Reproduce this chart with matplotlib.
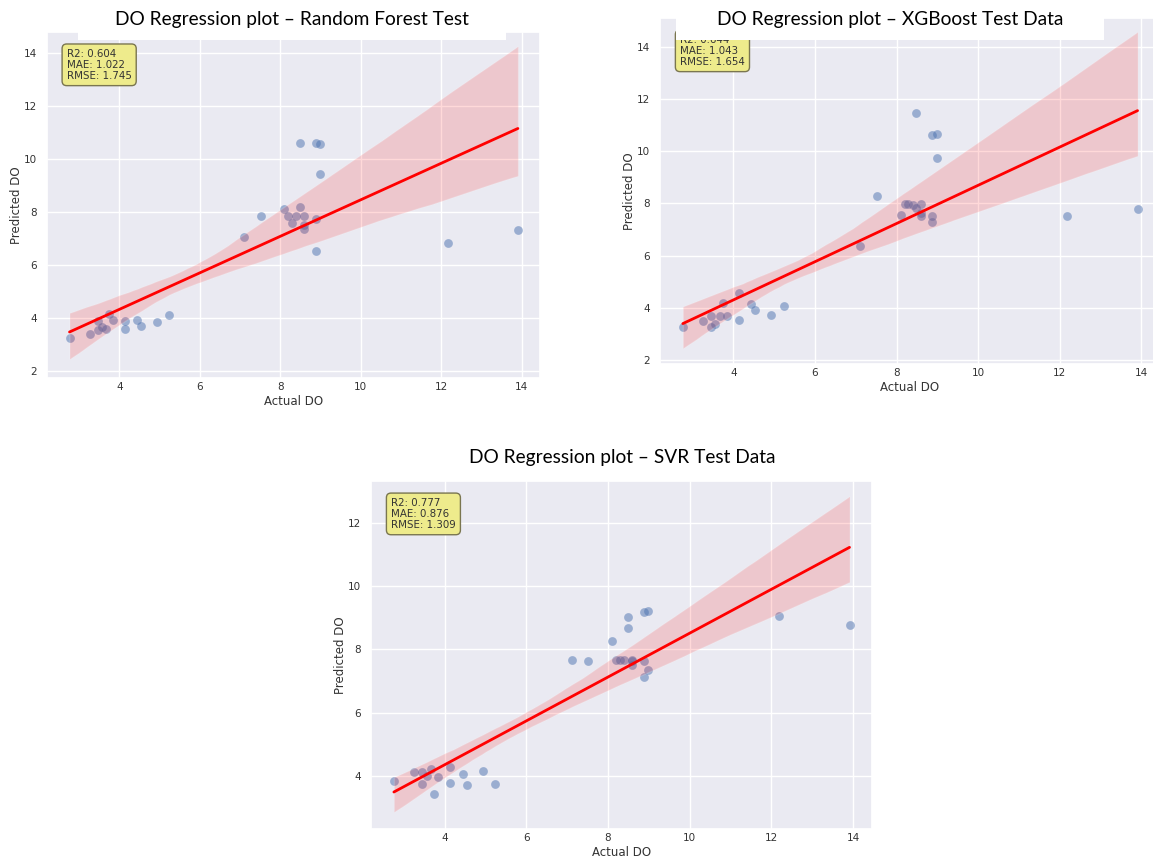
import numpy as np
import matplotlib
matplotlib.use("Agg")
import matplotlib.pyplot as plt
from matplotlib.patches import Rectangle
import seaborn as sns

# ---------------- data ----------------
actual_do = [2.76, 3.26, 3.46, 3.46, 3.56, 3.66, 3.75, 3.84, 4.14, 4.14,
             4.44, 4.54, 4.93, 5.23, 7.11, 7.51, 8.10, 8.20, 8.29, 8.40,
             8.48, 8.48, 8.59, 8.59, 8.59, 8.88, 8.88, 8.88, 8.99, 8.99,
             12.18, 13.91]

rf_pred = [3.23, 3.40, 3.88, 3.54, 3.67, 3.57, 4.16, 3.91, 3.90, 3.59,
           3.93, 3.69, 3.84, 4.12, 7.05, 7.86, 8.12, 7.85, 7.60, 7.85,
           8.19, 10.59, 7.85, 7.52, 7.37, 10.59, 7.72, 6.53, 10.57, 9.43,
           6.83, 7.31]

xgb_pred = [3.27, 3.49, 3.69, 3.28, 3.40, 3.68, 4.20, 3.68, 4.58, 3.54,
            4.15, 3.91, 3.73, 4.08, 6.38, 8.30, 7.56, 7.96, 7.97, 7.92,
            11.46, 7.83, 7.96, 7.62, 7.50, 10.61, 7.53, 7.27, 10.67, 9.75,
            7.50, 7.79]

svr_pred = [3.85, 4.12, 4.13, 3.75, 3.99, 4.21, 3.42, 3.95, 4.29, 3.79,
            4.05, 3.72, 4.16, 3.75, 7.66, 7.62, 8.28, 7.66, 7.66, 7.66,
            9.02, 8.67, 7.66, 7.50, 7.62, 9.17, 7.62, 7.13, 9.21, 7.34,
            9.06, 8.76]

titles = ["DO Regression plot \u2013 Random Forest Test",
          "DO Regression plot \u2013 XGBoost Test Data",
          "DO Regression plot \u2013 SVR Test Data"]
r2_vals = [0.604, 0.644, 0.777]
mae_vals = [1.022, 1.043, 0.876]
rmse_vals = [1.745, 1.654, 1.309]

x_label = "Actual DO"
y_label = "Predicted DO"

# ---------------- style ----------------
sns.set_theme(style="darkgrid")
plt.rcParams["font.family"] = ["DejaVu Sans"]

W, H = 1153, 858
fig = plt.figure(figsize=(W / 100, H / 100), dpi=100)
fig.patch.set_facecolor("white")


def px_axes(left, top, right, bottom):
    return [left / W, 1 - bottom / H, (right - left) / W, (bottom - top) / H]


axes_pos = [px_axes(47, 32, 540, 378),
            px_axes(660, 18, 1160, 364),
            px_axes(371, 481, 872, 829)]
ylims = [(1.74, 14.79), (1.85, 15.1), (2.32, 13.33)]
preds = [rf_pred, xgb_pred, svr_pred]

for i in range(3):
    ax = fig.add_axes(axes_pos[i])
    sns.regplot(x=np.array(actual_do), y=np.array(preds[i]), ax=ax,
                color="#4c72b0", seed=3, n_boot=1000,
                scatter_kws=dict(s=40, alpha=0.5, linewidths=0),
                line_kws=dict(color="red", lw=2))
    ax.set_ylim(*ylims[i])
    ax.set_xlim(2.2, 14.46)
    ax.set_xlabel(x_label, fontsize=8.5, labelpad=2, color="#333333")
    ax.set_ylabel(y_label, fontsize=8.5, labelpad=1, color="#333333")
    ax.tick_params(axis="x", labelsize=7.5, length=0, pad=3, labelcolor="#333333")
    ax.tick_params(axis="y", labelsize=7.5, length=0, pad=7, labelcolor="#333333")
    txt = f"R2: {r2_vals[i]:.3f}\nMAE: {mae_vals[i]:.3f}\nRMSE: {rmse_vals[i]:.3f}"
    ax.text(0.04, 0.952, txt, transform=ax.transAxes, fontsize=7.4,
            va="top", ha="left", color="#333333", linespacing=1.15,
            bbox=dict(boxstyle="round,pad=0.45", facecolor="#eeeb8c",
                      edgecolor="#7a7650", linewidth=1.0))

# white title boxes overlapping the top of the upper plots
for (l, t, r, b) in [(78, 0, 506, 40), (676, 0, 1104, 40)]:
    fig.add_artist(Rectangle((l / W, 1 - b / H), (r - l) / W, (b - t) / H,
                             transform=fig.transFigure, facecolor="white",
                             edgecolor="none", zorder=5))

title_pos = [(292, 20), (890, 20), (622, 458)]
for (cx, cy), t in zip(title_pos, titles):
    fig.text(cx / W, 1 - cy / H, t, ha="center", va="center",
             fontsize=13.8, family=["Lato", "DejaVu Sans"], color="black",
             zorder=6)

fig.savefig("out.png", dpi=100, facecolor="white")
